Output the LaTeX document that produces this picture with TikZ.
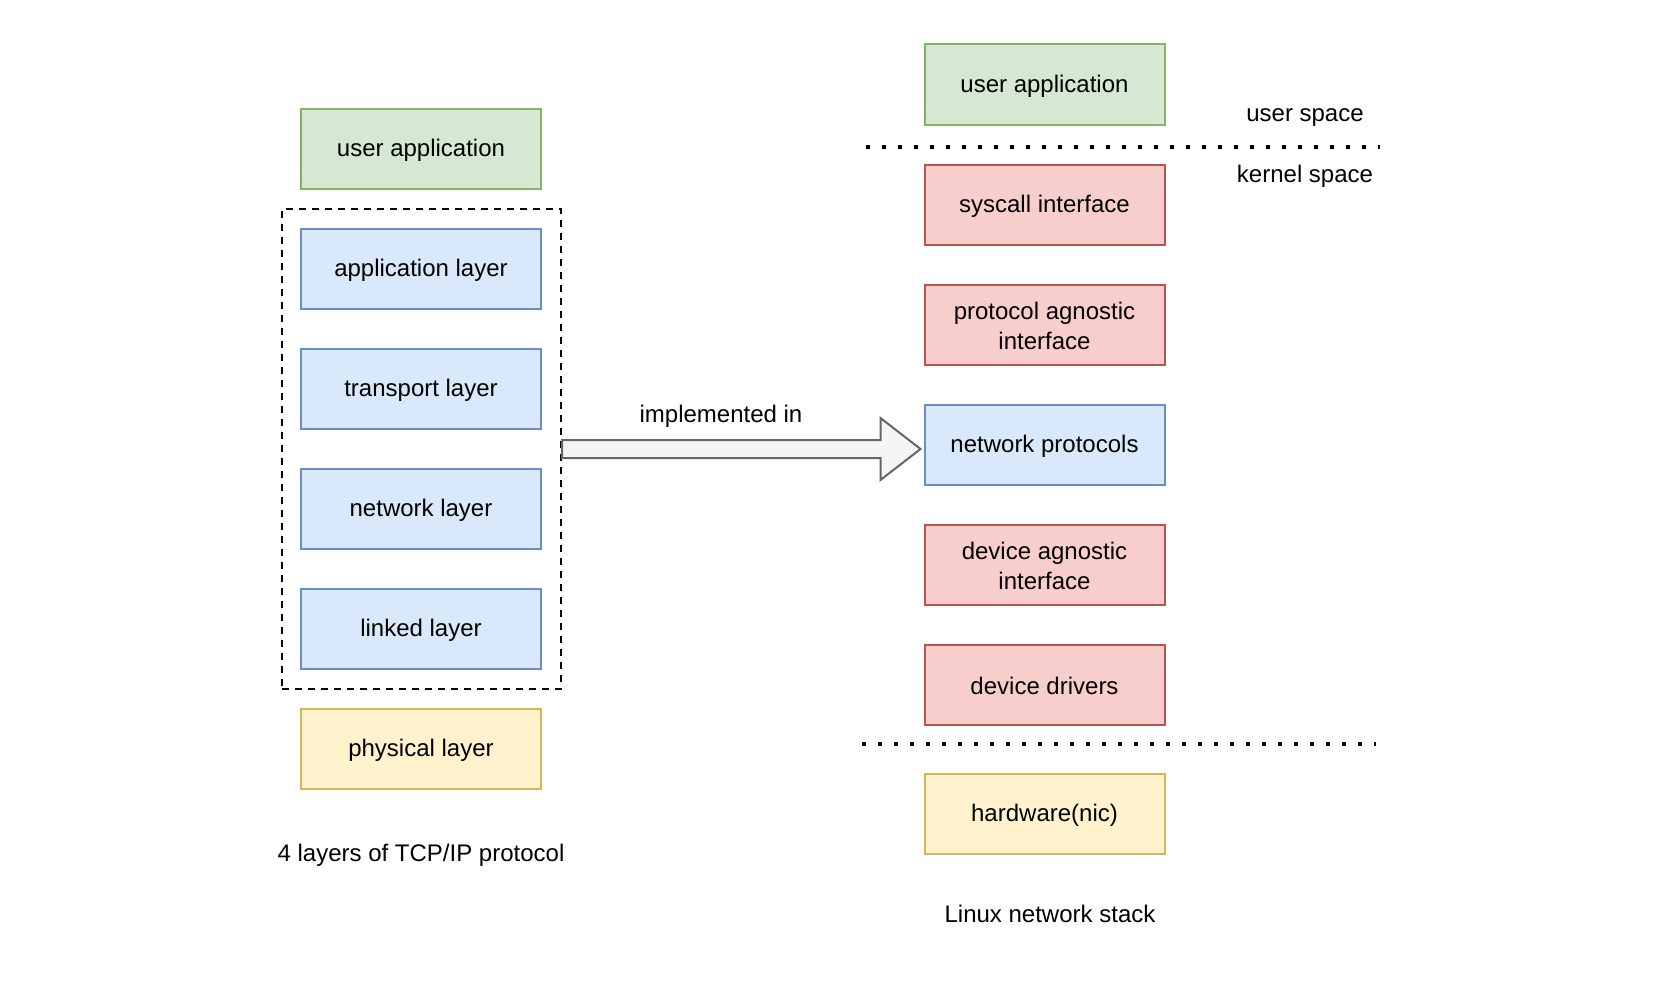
\documentclass[tikz,border=0pt]{standalone}
\usepackage{fontspec}
\setmainfont{Liberation Sans}
\usetikzlibrary{calc}
\definecolor{gfill}{HTML}{D5E8D4}\definecolor{gline}{HTML}{82B366}
\definecolor{bfill}{HTML}{DAE8FC}\definecolor{bline}{HTML}{6C8EBF}
\definecolor{rfill}{HTML}{F8CECC}\definecolor{rline}{HTML}{B85450}
\definecolor{yfill}{HTML}{FFF2CC}\definecolor{yline}{HTML}{D6B656}
\definecolor{afill}{HTML}{F5F5F5}\definecolor{aline}{HTML}{666666}
\tikzset{
  box/.style={draw, line width=2pt, minimum width=240pt, minimum height=80pt,
    inner sep=0pt, align=center, font=\fontsize{24pt}{30pt}\selectfont},
  btext/.style={inner sep=0pt, align=center, font=\fontsize{24pt}{30pt}\selectfont},
  gbox/.style={box, fill=gfill, draw=gline},
  bbox/.style={box, fill=bfill, draw=bline},
  rbox/.style={box, fill=rfill, draw=rline},
  ybox/.style={box, fill=yfill, draw=yline},
  lbl/.style={inner sep=0pt, font=\fontsize{24pt}{29pt}\selectfont},
  dotline/.style={line width=4pt, dash pattern=on 4pt off 12pt},
  bigarrow/.style={fill=afill, draw=aline, line width=2pt, line join=miter}
}
\begin{document}
\begin{tikzpicture}[x=1pt,y=-1pt]
\useasboundingbox (0,0) rectangle (1662,982);
% left column
\node[draw, dash pattern=on 7pt off 6pt, line width=2pt, minimum width=279pt, minimum height=480pt, inner sep=0pt] (dash) at (421.5,449) {};
\node[gbox] (lua) at (421,149) {};
\node[bbox] (app) at (421,269) {};
\node[bbox] (tra) at (421,389) {};
\node[bbox] (net) at (421,509) {};
\node[bbox] (lnk) at (421,629) {};
\node[ybox] (phy) at (421,749) {};
\node[btext] at ($(lua)+(0,1.5)$) {user application};
\node[btext] at ($(app)+(0,1.5)$) {application layer};
\node[btext] at ($(tra)+(0,1.5)$) {transport layer};
\node[btext] at ($(net)+(0,1.5)$) {network layer};
\node[btext] at ($(lnk)+(0,1.5)$) {linked layer};
\node[btext] at ($(phy)+(0,1.5)$) {physical layer};
\node[lbl] (ltitle) at (421,855.5) {4 layers of TCP/IP protocol};
% right column
\node[gbox] (rua) at (1044.5,84.5) {};
\node[rbox] (sys) at (1044.5,204.5) {};
\node[rbox] (pai) at (1044.5,324.5) {};
\node[bbox] (np) at (1044.5,444.5) {};
\node[rbox] (dai) at (1044.5,564.5) {};
\node[rbox] (dd) at (1044.5,684.5) {};
\node[ybox] (hw) at (1044.5,814) {};
\node[btext] at ($(rua)+(0,1.5)$) {user application};
\node[btext] at ($(sys)+(0,1.5)$) {syscall interface};
\node[btext] at ($(pai)+(0,1.5)$) {protocol agnostic\\interface};
\node[btext] at ($(np)+(0,1.5)$) {network protocols};
\node[btext] at ($(dai)+(0,1.5)$) {device agnostic\\interface};
\node[btext] at ($(dd)+(0,1.5)$) {device drivers};
\node[btext] at ($(hw)+(0,1.5)$) {hardware(nic)};
\node[lbl] (rtitle) at (1050,914) {Linux network stack};
\node[lbl] (us) at (1305,118) {user space};
\node[lbl] (ks) at (1305,176) {kernel space};
% dotted separators
\coordinate (d1a) at (866,146.5); \coordinate (d1b) at (1380,146.5);
\coordinate (d2a) at (862,744); \coordinate (d2b) at (1376,744);
\draw[dotline] (d1a) -- (d1b);
\draw[dotline] (d2a) -- (d2b);
% big arrow
\coordinate (s) at (dash.east |- 0,449);
\coordinate (t) at ($(np.west |- 0,449)+(-3,0)$);
\draw[bigarrow] (s) ++(0,-9) -- ($(t)+(-40,-9)$) -- ($(t)+(-40,-31)$) -- (t)
  -- ($(t)+(-40,31)$) -- ($(t)+(-40,9)$) -- ($(s)+(0,9)$) -- cycle;
\node[lbl] (impl) at (721,416) {implemented in};
\end{tikzpicture}
\end{document}
